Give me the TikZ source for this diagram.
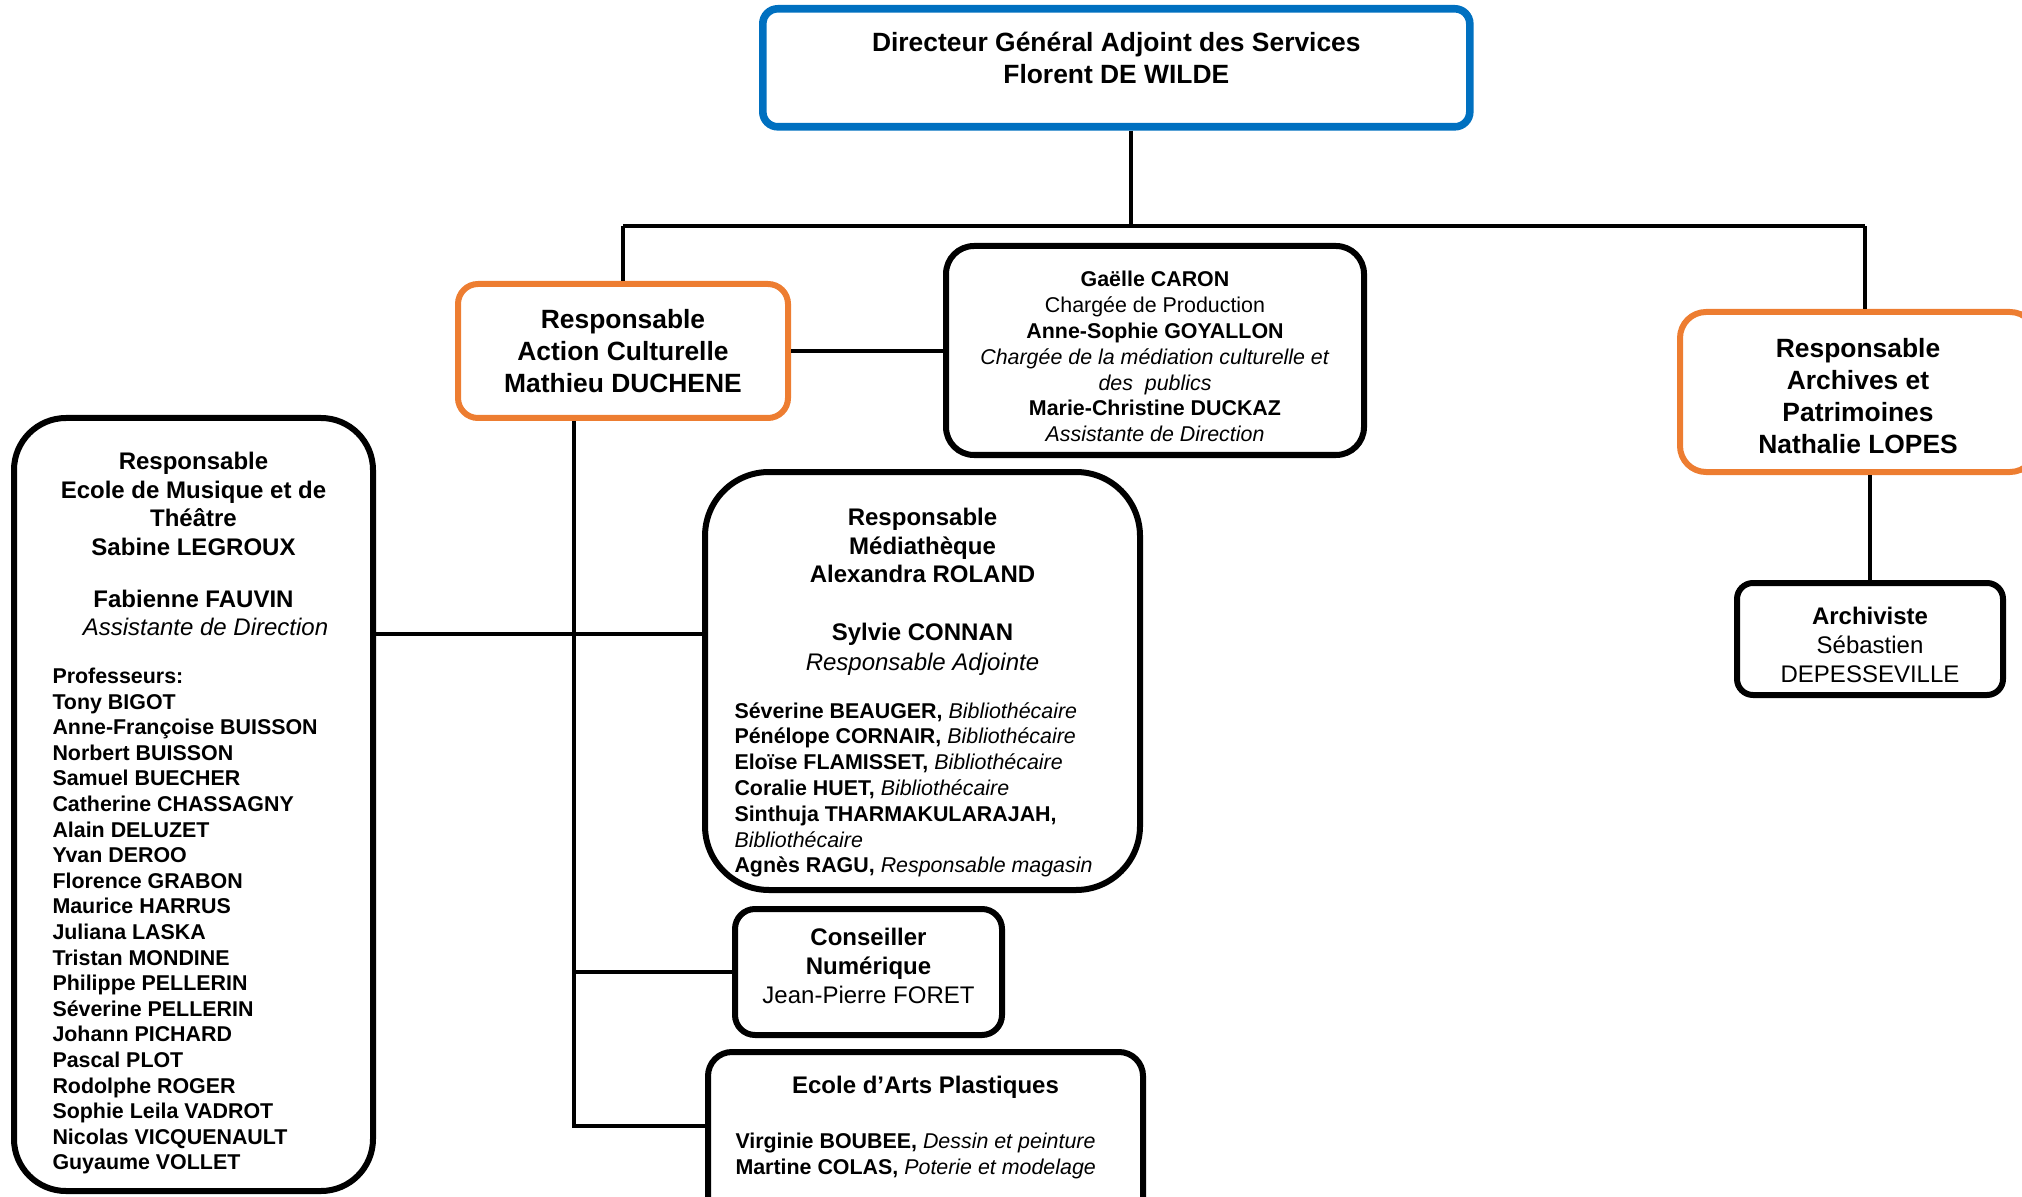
\documentclass[tikz,border=0pt]{standalone}
\usepackage{fontspec}
\setmainfont{Liberation Sans}
\usepackage{tikz}
\usetikzlibrary{positioning}
\definecolor{dgasblue}{RGB}{0,112,192}
\definecolor{resporange}{RGB}{237,125,49}
\tikzstyle{bluebox} = [rectangle, rounded corners=7.5pt, draw=dgasblue, line width=3.8pt, inner sep=0pt, anchor=north west]
\tikzstyle{orangebox} = [rectangle, rounded corners=10pt, draw=resporange, line width=3pt, inner sep=0pt, anchor=north west, align=center, font=\fontsize{13.2}{15.8}\selectfont\bfseries]
\tikzstyle{staffbox} = [rectangle, rounded corners=12pt, draw=black, line width=3pt, inner sep=0pt, anchor=north west]
\tikzstyle{link} = [line width=1.6pt]

\begin{document}
\begin{tikzpicture}[x=0.5pt, y=-0.5pt]
  \useasboundingbox (3,3) rectangle (2025,1200);

  \node (dgas) [bluebox, minimum width=353.5pt, minimum height=59pt] at (762,8)
    {\begin{minipage}[c][36pt][t]{300pt}\centering\fontsize{13.2}{16}\selectfont\bfseries
     Directeur Général Adjoint des Services\\ Florent DE WILDE\end{minipage}};

  \node (action) [orangebox, minimum width=165pt, minimum height=67pt] at (458,284)
    {Responsable\\ Action Culturelle\\ Mathieu DUCHENE};
  \node (archives) [orangebox, rounded corners=13pt, minimum width=178pt, minimum height=80pt, font=\fontsize{13.2}{16}\selectfont\bfseries] at (1680,312)
    {\rule{0pt}{14pt}Responsable\\ Archives et\\ Patrimoines\\ Nathalie LOPES};

  \node (staff) [staffbox, rounded corners=14pt, minimum width=209pt, minimum height=104.5pt, align=center, font=\fontsize{10.7}{12.9}\selectfont] at (946,246)
    {\rule{0pt}{14pt}\textbf{Gaëlle CARON}\\ Chargée de Production\\ \textbf{Anne-Sophie GOYALLON}\\
     \textit{Chargée de la médiation culturelle et}\\ \textit{des\ \ publics}\\
     \textbf{Marie-Christine DUCKAZ}\\ \textit{Assistante de Direction}};

  \node (archiviste) [staffbox, rounded corners=8pt, minimum width=133pt, minimum height=56pt, align=center, font=\fontsize{12}{14.3}\selectfont] at (1737,583)
    {\rule{0pt}{14.6pt}\textbf{Archiviste}\\ Sébastien\\ DEPESSEVILLE};

  % ecole de musique
  \node (musique) [staffbox, rounded corners=26pt, minimum width=179.5pt, minimum height=386.5pt] at (14,418)
    {\begin{minipage}{141pt}
     \vspace*{9pt}
     {\centering\fontsize{12}{14.2}\selectfont\bfseries Responsable\\ Ecole de Musique et de\\ Théâtre\\ Sabine LEGROUX\\[12pt]
      Fabienne FAUVIN\\ \mdseries\itshape\hspace{12pt}Assistante de Direction\par}
     \vspace{11pt}\raggedright\fontsize{10.7}{12.8}\selectfont\bfseries
     Professeurs:\\ Tony BIGOT\\ Anne-Françoise BUISSON\\ Norbert BUISSON\\ Samuel BUECHER\\
     Catherine CHASSAGNY\\ Alain DELUZET\\ Yvan DEROO\\ Florence GRABON\\ Maurice HARRUS\\
     Juliana LASKA\\ Tristan MONDINE\\ Philippe PELLERIN\\ Séverine PELLERIN\\ Johann PICHARD\\
     Pascal PLOT\\ Rodolphe ROGER\\ Sophie Leila VADROT\\ Nicolas VICQUENAULT\\ Guyaume VOLLET
     \end{minipage}};

  % mediatheque
  \node (media) [staffbox, rounded corners=32pt, minimum width=217.5pt, minimum height=209pt] at (705,472)
    {\begin{minipage}{188pt}
     \vspace*{12pt}
     {\centering\fontsize{12}{14.2}\selectfont\bfseries Responsable\\ Médiathèque\\ Alexandra ROLAND\\[14.8pt]
      Sylvie CONNAN\\[0.6pt] \mdseries\itshape Responsable Adjointe\par}
     \vspace{11pt}\raggedright\fontsize{10.7}{12.9}\selectfont
     \textbf{Séverine BEAUGER,} \textit{Bibliothécaire}\\
     \textbf{Pénélope CORNAIR,} \textit{Bibliothécaire}\\
     \textbf{Eloïse FLAMISSET,} \textit{Bibliothécaire}\\
     \textbf{Coralie HUET,} \textit{Bibliothécaire}\\
     \textbf{Sinthuja THARMAKULARAJAH,}\\ \textit{Bibliothécaire}\\
     \textbf{Agnès RAGU,} \textit{Responsable magasin}
     \end{minipage}};

  \node (numer) [staffbox, rounded corners=10pt, minimum width=133.5pt, minimum height=63pt, align=center, font=\fontsize{12}{14.5}\selectfont] at (735,909)
    {\textbf{Conseiller}\\ \textbf{Numérique}\\ Jean-Pierre FORET\rule[-6.5pt]{0pt}{0pt}};

  \node (arts) [staffbox, minimum width=217.5pt, minimum height=95pt] at (708,1052)
    {\begin{minipage}[c][71pt][t]{190pt}
     {\centering\fontsize{12}{14.2}\selectfont\bfseries Ecole d’Arts Plastiques\par}
     \vspace{14.6pt}\raggedright\fontsize{10.7}{12.9}\selectfont
     \textbf{Virginie BOUBEE,} \textit{Dessin et peinture}\\
     \textbf{Martine COLAS,} \textit{Poterie et modelage}
     \end{minipage}};

  % connectors
  \coordinate (busL) at (626,229);
  \coordinate (busM) at (1134,229);
  \coordinate (busR) at (1868,229);
  \coordinate (trunk) at (577,1129);
  \coordinate (jmus) at (577,637);

  \draw [link] (dgas.south -| busM) -- (busM);
  \draw [link] (busL) -- (busR);
  \draw [link] (busL) -- (busL |- action.north);
  \draw [link] (busR) -- (busR |- archives.north);
  \draw [link] (action.east) -- (action.east -| staff.west);
  \draw [link] (archiviste.north |- archives.south) -- (archiviste.north);
  \draw [link] (trunk |- action.south) -- (trunk) -- (trunk -| arts.west);
  \draw [link] (jmus -| musique.east) -- (jmus -| media.west);
  \draw [link] (trunk |- numer.west) -- (numer.west);
\end{tikzpicture}
\end{document}
